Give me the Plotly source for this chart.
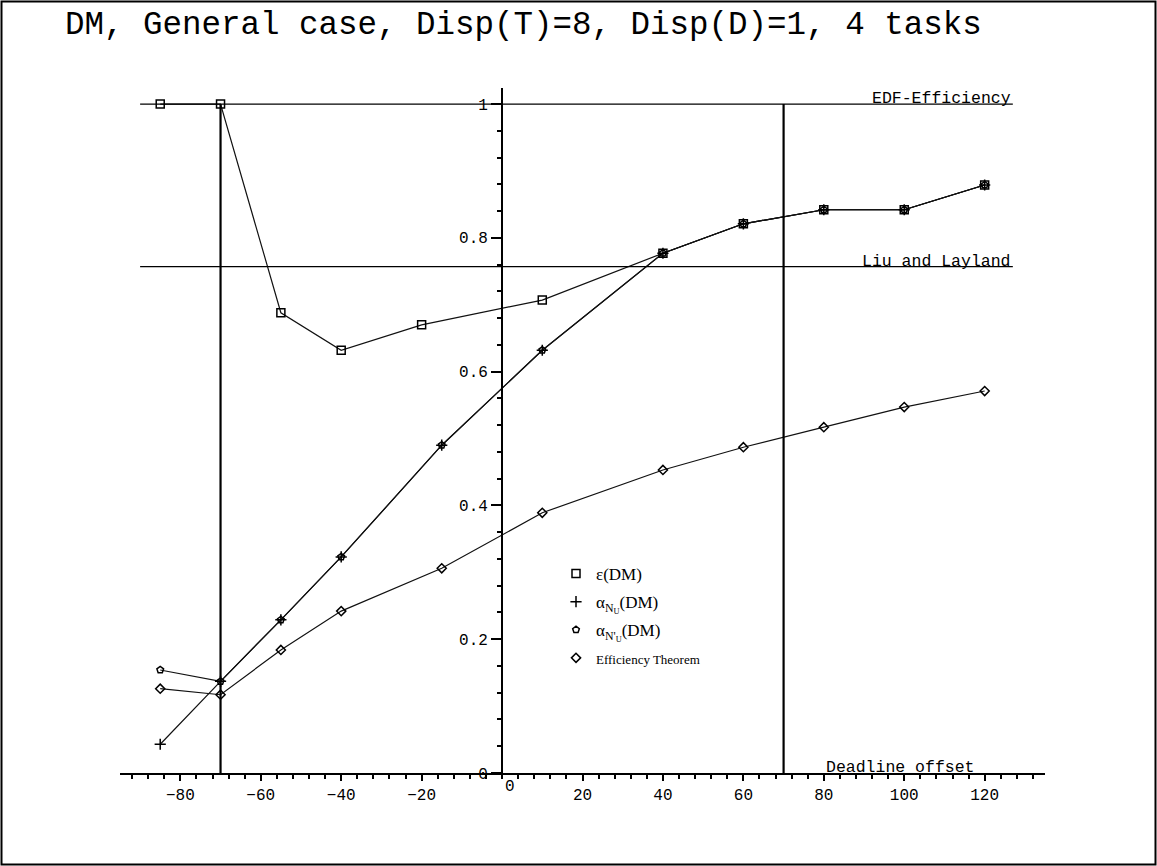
import plotly.graph_objects as go

# ---------------- data ----------------
x_eps = [-85, -70, -55, -40, -20, 10, 40, 60, 80, 100, 120]
eps_dm = [1.0, 1.0, 0.688, 0.632, 0.670, 0.707, 0.777, 0.821, 0.842, 0.842, 0.879]

x_alpha = [-85, -70, -55, -40, -15, 10, 40, 60, 80, 100, 120]
alpha_nu = [0.043, 0.137, 0.229, 0.323, 0.490, 0.632, 0.777, 0.821, 0.842, 0.842, 0.879]
alpha_nprime_u = [0.154, 0.137, 0.229, 0.323, 0.490, 0.632, 0.777, 0.821, 0.842, 0.842, 0.879]

x_eff = [-85, -70, -55, -40, -15, 10, 40, 60, 80, 100, 120]
eff_theorem = [0.126, 0.117, 0.184, 0.242, 0.306, 0.389, 0.453, 0.487, 0.517, 0.547, 0.571]

edf_efficiency = 1.0
liu_layland = 0.757
ref_line_x = [-90, 127]
vertical_x = [-70, 70]

x_tickvals = [-80, -60, -40, -20, 20, 40, 60, 80, 100, 120]
y_tickvals = [0, 0.2, 0.4, 0.6, 0.8, 1]
y_ticktext = ["0", "0.2", "0.4", "0.6", "0.8", "1"]

x_range = [-95, 135]
y_range = [0, 1.024]

names = [
    "ε(DM)",
    "α<sub>N<sub>U</sub></sub>(DM)",
    "α<sub>N'<sub>U</sub></sub>(DM)",
    "<span style='font-size:13px'>Efficiency Theorem</span>",
]

MONO = "Liberation Mono"
SERIF = "Liberation Serif"

fig = go.Figure()

series = [
    (x_eps, eps_dm, "square-open", 8),
    (x_alpha, alpha_nu, "cross-thin-open", 8),
    (x_alpha, alpha_nprime_u, "pentagon-open", 7),
    (x_eff, eff_theorem, "diamond-open", 7),
]

# lines (no legend)
for xs, ys, sym, sz in series:
    fig.add_trace(go.Scatter(x=xs, y=ys, mode="lines",
                             line=dict(color="#111111", width=1.2),
                             showlegend=False, hoverinfo="skip"))
# markers (legend)
for i, (xs, ys, sym, sz) in enumerate(series):
    fig.add_trace(go.Scatter(x=xs, y=ys, mode="markers", name=names[i],
                             legendgroup=f"g{i}",
                             marker=dict(symbol=sym, size=sz, color="#000000",
                                         line=dict(color="#000000", width=1.5))))

# reference lines
fig.add_trace(go.Scatter(x=ref_line_x, y=[edf_efficiency] * 2, mode="lines",
                         line=dict(color="#000000", width=1.3), showlegend=False, hoverinfo="skip"))
fig.add_trace(go.Scatter(x=ref_line_x, y=[liu_layland] * 2, mode="lines",
                         line=dict(color="#000000", width=1.3), showlegend=False, hoverinfo="skip"))
for vx in vertical_x:
    fig.add_trace(go.Scatter(x=[vx, vx], y=[0, edf_efficiency], mode="lines",
                             line=dict(color="#000000", width=2.2), showlegend=False, hoverinfo="skip"))

# annotations
annotations = [
    dict(x=ref_line_x[1], y=edf_efficiency, text="EDF-Efficiency", xanchor="right",
         yanchor="bottom", yshift=-6, showarrow=False, font=dict(family=MONO, size=16.5, color="black")),
    dict(x=ref_line_x[1], y=liu_layland, text="Liu and Layland", xanchor="right",
         yanchor="bottom", yshift=-6, showarrow=False, font=dict(family=MONO, size=16.5, color="black")),
    dict(x=118, y=0, text="Deadline offset", xanchor="right",
         yanchor="bottom", yshift=-6, showarrow=False, font=dict(family=MONO, size=16.5, color="black")),
    dict(x=0, y=0, text="0", xanchor="left", yanchor="top", xshift=1, yshift=-3,
         showarrow=False, font=dict(family=MONO, size=16, color="black")),
]

W, H = 1157, 866
ml, mr, mt, mb = 120, 112, 88, 93
pw, ph = W - ml - mr, H - mt - mb

def px_to_paper_x(px):
    return (px - ml) / pw

def py_to_paper_y(py):
    return (H - mb - py) / ph

shapes = [
    dict(type="rect", xref="paper", yref="paper",
         x0=px_to_paper_x(1.5), x1=px_to_paper_x(W - 1.5),
         y0=py_to_paper_y(H - 1.5), y1=py_to_paper_y(1.5),
         line=dict(color="black", width=2)),
]

ypos = (0 - x_range[0]) / (x_range[1] - x_range[0])

fig.update_layout(
    width=W, height=H, autosize=False,
    margin=dict(l=ml, r=mr, t=mt, b=mb),
    paper_bgcolor="white", plot_bgcolor="white",
    title=dict(text="DM, General case, Disp(T)=8, Disp(D)=1, 4 tasks",
               x=65 / W, xanchor="left", xref="container",
               y=1 - 23 / H, yanchor="middle", yref="container",
               font=dict(family=MONO, size=32.5, color="black")),
    xaxis=dict(range=x_range, showgrid=False, zeroline=False,
               showline=True, linecolor="black", linewidth=2,
               ticks="outside", ticklen=6, tickwidth=2, tickcolor="black",
               tickmode="array", tickvals=x_tickvals,
               tickfont=dict(family=MONO, size=16, color="black"),
               minor=dict(ticks="outside", ticklen=4, tickwidth=1.5, tickcolor="black",
                          tickmode="linear", tick0=0, dtick=4, showgrid=False)),
    xaxis2=dict(range=x_range, overlaying="x", anchor="y", side="bottom",
                showgrid=False, zeroline=False, showline=False,
                ticks="inside", ticklen=6, tickwidth=2, tickcolor="black",
                tickmode="array", tickvals=x_tickvals, showticklabels=False,
                minor=dict(ticks="inside", ticklen=4, tickwidth=1.5, tickcolor="black",
                           tickmode="linear", tick0=0, dtick=4, showgrid=False)),
    yaxis=dict(range=y_range, anchor="free", position=ypos, showgrid=False, zeroline=False,
               showline=True, linecolor="black", linewidth=2,
               ticks="outside", ticklen=10, tickwidth=1.5, tickcolor="black",
               tickmode="array", tickvals=y_tickvals, ticktext=y_ticktext,
               tickfont=dict(family=MONO, size=16, color="black"),
               minor=dict(ticks="outside", ticklen=4, tickwidth=1.5, tickcolor="black",
                          tickmode="linear", tick0=0, dtick=0.04, showgrid=False)),
    yaxis2=dict(range=y_range, overlaying="y", anchor="free", position=ypos,
                showgrid=False, zeroline=False, showline=False,
                ticks="inside", ticklen=4, tickwidth=1.5, tickcolor="black",
                tickmode="array", tickvals=y_tickvals, showticklabels=False,
                minor=dict(ticks="inside", ticklen=4, tickwidth=1.5, tickcolor="black",
                           tickmode="linear", tick0=0, dtick=0.04, showgrid=False)),
    legend=dict(x=px_to_paper_x(556), y=py_to_paper_y(556), xanchor="left", yanchor="top",
                bgcolor="rgba(0,0,0,0)", borderwidth=0,
                font=dict(family=SERIF, size=17, color="black"),
                itemwidth=30, tracegroupgap=3),
    annotations=annotations,
    shapes=shapes,
)

fig.write_html("out.html")
